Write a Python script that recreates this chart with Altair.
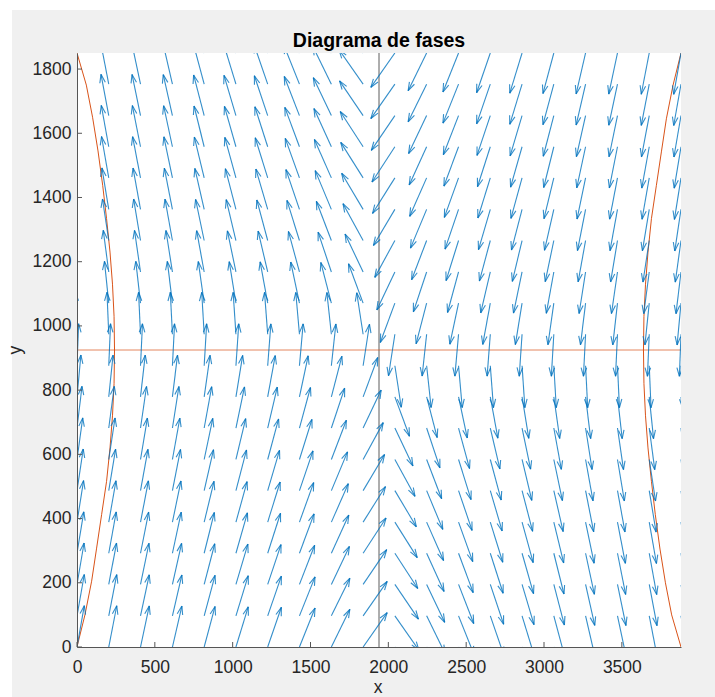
import math
import altair as alt
import pandas as pd

# ---------------- data ----------------
x_grid = [0, 204, 408, 613, 817, 1021, 1225, 1429, 1634, 1838,
          2042, 2246, 2451, 2655, 2859, 3063, 3267, 3472, 3676, 3880]
y_grid = [0, 97, 195, 292, 389, 487, 584, 682, 779, 876,
          974, 1071, 1168, 1266, 1363, 1461, 1558, 1655, 1753, 1850]

# horizontal component of the (direction-field) arrows, one value per row (screen units)
u_by_row = [1.0, 1.0, 0.97, 0.93, 0.90, 0.85, 0.78, 0.68, 0.53, 0.22,
            -0.22, -0.53, -0.68, -0.78, -0.85, -0.90, -0.93, -0.97, -1.0, -1.0]
# vertical component, one value per column (screen units)
v_by_col = [5.67, 5.15, 4.70, 4.33, 3.73, 3.27, 2.90, 2.50, 2.04, 1.43,
            -1.43, -2.04, -2.50, -2.90, -3.27, -3.73, -4.33, -4.70, -5.15, -5.67]

# red trajectories
left_x = [0, 51, 94, 126, 158, 190, 212, 228, 238, 241, 238, 228, 212, 190, 165, 135, 100, 60, 0]
left_y = [0, 100, 205, 308, 412, 516, 620, 720, 820, 925, 1030, 1130, 1230, 1334, 1438, 1545, 1650, 1750, 1850]
right_x = [3880, 3829, 3786, 3754, 3722, 3690, 3668, 3652, 3642, 3639, 3642, 3652, 3668, 3690, 3715, 3745, 3780, 3820, 3880]
right_y = [1850, 1750, 1645, 1542, 1438, 1334, 1230, 1130, 1030, 925, 820, 720, 620, 516, 412, 305, 200, 100, 0]

x_eq = 1940   # black vertical line
y_eq = 925    # red horizontal line

x_ticks = [0, 500, 1000, 1500, 2000, 2500, 3000, 3500]
y_ticks = [0, 200, 400, 600, 800, 1000, 1200, 1400, 1600, 1800]
x_max, y_max = 3880, 1850

# ---------------- layout / style ----------------
W, H = 604, 594
ARROW_PX = 42
HEAD_PX = 9
HEAD_ANG = math.radians(18)
BLUE = "#0072BD"
RED = "#D95319"
FONT = "Liberation Sans"
TXT = "#262626"
AX = "#555555"

sx = x_max / W
sy = y_max / H

segs = []
for i, y0 in enumerate(y_grid):
    for j, x0 in enumerate(x_grid):
        u, v = u_by_row[i], v_by_col[j]
        n = math.hypot(u, v)
        dx, dy = u / n, v / n
        hx = x0 + ARROW_PX * dx * sx
        hy = y0 + ARROW_PX * dy * sy
        segs.append(dict(x=x0, y=y0, x2=hx, y2=hy))
        a, b = -dx, -dy
        for s in (1, -1):
            t = s * HEAD_ANG
            cx = a * math.cos(t) - b * math.sin(t)
            cy = a * math.sin(t) + b * math.cos(t)
            segs.append(dict(x=hx, y=hy, x2=hx + HEAD_PX * cx * sx, y2=hy + HEAD_PX * cy * sy))
arrows = pd.DataFrame(segs)

curves = pd.DataFrame(
    [dict(x=a, y=b, c="left", o=k) for k, (a, b) in enumerate(zip(left_x, left_y))]
    + [dict(x=a, y=b, c="right", o=k) for k, (a, b) in enumerate(zip(right_x, right_y))]
)

xscale = alt.Scale(domain=[0, x_max], nice=False, zero=False)
yscale = alt.Scale(domain=[0, y_max], nice=False, zero=False)
xaxis = alt.Axis(values=x_ticks, title=None, grid=False, ticks=False, tickSize=0,
                 labelPadding=11, labelFont=FONT, labelFontSize=17.5, labelColor=TXT,
                 domainColor=AX, domainWidth=1, labelOverlap=False, labelBound=False,
                 labelFlush=False, format="d", zindex=2)
yaxis = alt.Axis(values=y_ticks, title=None, grid=False, ticks=False, tickSize=0,
                 labelPadding=6, labelFont=FONT, labelFontSize=17.5, labelColor=TXT,
                 domainColor=AX, domainWidth=1, labelOverlap=False, labelBound=False,
                 labelFlush=False, format="d", zindex=2)


def X(f):
    return alt.X(f, type="quantitative", scale=xscale, axis=xaxis)


def Y(f):
    return alt.Y(f, type="quantitative", scale=yscale, axis=yaxis)


one = pd.DataFrame({"k": [0]})

bg = alt.Chart(one).mark_rect(color="#f0f0f0").encode(
    x=alt.value(-65), x2=alt.value(638), y=alt.value(-43), y2=alt.value(644))
plot_bg = alt.Chart(one).mark_rect(color="white").encode(
    x=alt.value(0), x2=alt.value(W), y=alt.value(0), y2=alt.value(H))

red_curves = alt.Chart(curves).mark_line(color=RED, strokeWidth=1, clip=True).encode(
    x=X("x"), y=Y("y"), detail="c:N", order="o:Q")

hline = alt.Chart(pd.DataFrame({"y": [y_eq], "x": [0], "x2": [x_max]})).mark_rule(
    color=RED, strokeWidth=1, opacity=0.7).encode(x=X("x"), x2="x2:Q", y=Y("y"))
vline = alt.Chart(pd.DataFrame({"x": [x_eq], "y": [0], "y2": [y_max]})).mark_rule(
    color="#333333", strokeWidth=0.8).encode(x=X("x"), y=Y("y"), y2="y2:Q")

arrow_layer = alt.Chart(arrows).mark_rule(color=BLUE, strokeWidth=1.1, opacity=0.8, clip=True).encode(
    x=X("x"), y=Y("y"), x2="x2:Q", y2="y2:Q")

xt = alt.Chart(pd.DataFrame({"t": x_ticks})).mark_rule(color=AX, strokeWidth=1).encode(
    x=X("t"), y=alt.value(H), y2=alt.value(H - 5))
yt = alt.Chart(pd.DataFrame({"t": y_ticks})).mark_rule(color=AX, strokeWidth=1).encode(
    y=Y("t"), x=alt.value(0), x2=alt.value(5))

title = alt.Chart(one).mark_text(text="Diagrama de fases", font=FONT, fontSize=19.5,
                                 fontWeight="bold", color="black", align="center",
                                 baseline="alphabetic").encode(x=alt.value(W / 2), y=alt.value(-6.5))
xtitle = alt.Chart(one).mark_text(text="x", font=FONT, fontSize=17.5, color=TXT, align="center",
                                  baseline="alphabetic").encode(x=alt.value(301), y=alt.value(640))
ytitle = alt.Chart(one).mark_text(text="y", font=FONT, fontSize=17.5, color=TXT, align="center",
                                  baseline="alphabetic", angle=270).encode(x=alt.value(-56.5), y=alt.value(297))

chart = alt.layer(bg, plot_bg, vline, hline, red_curves, arrow_layer, xt, yt, title, xtitle, ytitle).properties(
    width=W, height=H,
    padding={"left": 77, "top": 53, "right": 34, "bottom": 50},
    autosize=alt.AutoSizeParams(type="none"),
).configure_view(stroke=None).configure(background="white")

chart.save("out.html", embed_options={"renderer": "svg", "actions": False})
